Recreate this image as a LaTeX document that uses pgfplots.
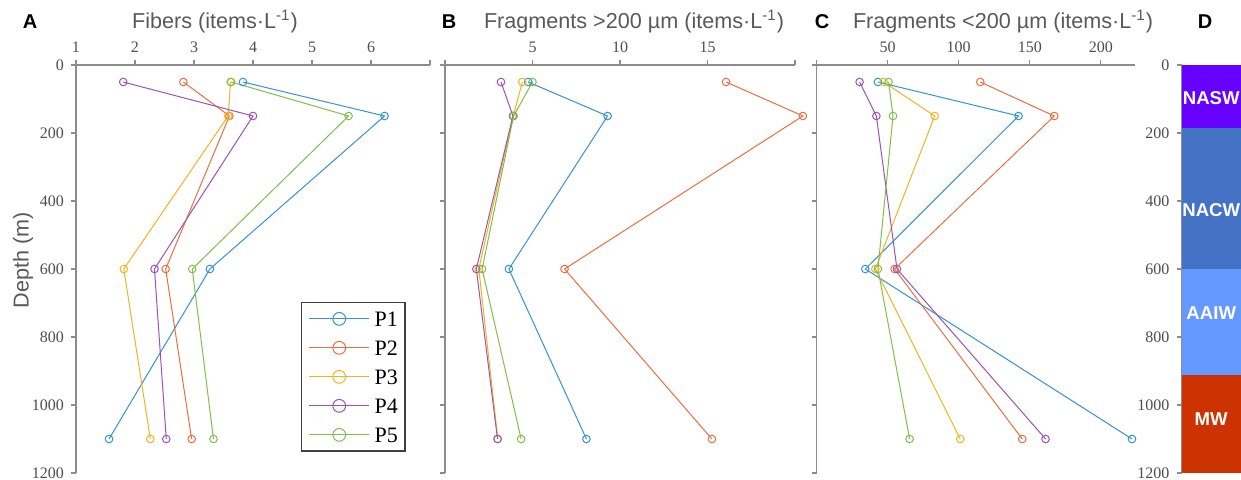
\documentclass[border=0pt]{standalone}
\usepackage{fontspec}
\setmainfont{Liberation Serif}
\newfontfamily\arial{Liberation Sans}
\usepackage{pgfplots}
\pgfplotsset{compat=1.18}
\definecolor{axgray}{HTML}{8C8C8C}
\definecolor{lblgray}{HTML}{4D4D4D}
\definecolor{ttlgray}{HTML}{595959}
\definecolor{cP1}{HTML}{3393D3}
\definecolor{cP2}{HTML}{EA6F40}
\definecolor{cP3}{HTML}{EDB423}
\definecolor{cP4}{HTML}{9E52B3}
\definecolor{cP5}{HTML}{82BE48}
\definecolor{cNASW}{HTML}{6600FF}
\definecolor{cNACW}{HTML}{4472C4}
\definecolor{cAAIW}{HTML}{6699FF}
\definecolor{cMW}{HTML}{CC3300}
\pgfplotsset{
  panel/.style={
    scale only axis, height=204pt, anchor=south west,
    ymin=0, ymax=1200, y dir=reverse,
    axis x line=top, axis y line=left,
    axis line style={draw=axgray, line width=0.6pt, -},
    tick style={draw=axgray, line width=0.6pt},
    major tick length=2.5pt, tick align=outside,
    ytick={0,200,...,1200},
    ticklabel style={font=\fontsize{8}{9}\selectfont, text=lblgray},
    /pgf/number format/assume math mode=true,
    /pgf/number format/1000 sep={},
    clip=false,
  },
  s/.style={color=#1, line width=0.5pt, mark=o, mark size=1.9pt, mark options={line width=0.5pt, fill=none}},
}
\begin{document}
\begin{tikzpicture}
\path[use as bounding box] (0,0) rectangle (620.5pt,240pt);
% Panel A
\begin{axis}[panel, at={(38pt,3.5pt)}, width=177pt,
  xmin=1, xmax=7, xtick={1,2,3,4,5,6,7}, xticklabels={1,2,3,4,5,6,},
  legend style={at={(axis description cs:0.636,0.419)}, anchor=north west,
    draw=black!75, line width=0.6pt, font=\fontsize{11}{12}\selectfont,
    inner xsep=3.5pt, inner ysep=4.5pt,
    nodes={inner sep=0pt, text height=7.2pt, text depth=0pt},
    row sep=7.3pt, column sep=2.5pt, cells={anchor=west}},
  legend image code/.code={\draw[#1,mark repeat=2,mark phase=2,mark size=3.2pt] plot coordinates {(0pt,0pt) (15pt,0pt) (30pt,0pt)};},
]
\addplot[s=cP1] coordinates {(3.83,50)(6.23,150)(3.27,600)(1.56,1100)};
\addplot[s=cP2] coordinates {(2.82,50)(3.60,150)(2.52,600)(2.96,1100)};
\addplot[s=cP3] coordinates {(3.62,50)(3.58,150)(1.81,600)(2.26,1100)};
\addplot[s=cP4] coordinates {(1.80,50)(4.00,150)(2.33,600)(2.53,1100)};
\addplot[s=cP5] coordinates {(3.63,50)(5.62,150)(2.97,600)(3.33,1100)};
\legend{P1,P2,P3,P4,P5}
\end{axis}
% Panel B
\begin{axis}[panel, at={(222.5pt,3.5pt)}, width=175pt,
  xmin=0, xmax=20, xtick={0,5,10,15,20}, xticklabels={,5,10,15,},
  yticklabels={}]
\addplot[s=cP1] coordinates {(4.75,50)(9.29,150)(3.65,600)(8.08,1100)};
\addplot[s=cP2] coordinates {(16.06,50)(20.45,150)(6.83,600)(15.25,1100)};
\addplot[s=cP3] coordinates {(4.42,50)(3.90,150)(1.93,600)(3.02,1100)};
\addplot[s=cP4] coordinates {(3.20,50)(3.88,150)(1.79,600)(3.00,1100)};
\addplot[s=cP5] coordinates {(5.00,50)(3.92,150)(2.12,600)(4.35,1100)};
\end{axis}
% Panel C
\begin{axis}[panel, at={(408.25pt,3.5pt)}, width=159.25pt,
  xmin=0, xmax=224, xtick={0,50,100,150,200}, xticklabels={,50,100,150,200},
  yticklabels={}]
\addplot[s=cP1] coordinates {(43.2,50)(142.1,150)(34.3,600)(221.9,1100)};
\addplot[s=cP2] coordinates {(115.2,50)(167.2,150)(54.9,600)(144.7,1100)};
\addplot[s=cP3] coordinates {(47.2,50)(83.1,150)(41.4,600)(101.1,1100)};
\addplot[s=cP4] coordinates {(30.3,50)(42.1,150)(56.6,600)(161.1,1100)};
\addplot[s=cP5] coordinates {(50.7,50)(53.8,150)(43.2,600)(65.5,1100)};
\end{axis}
% Panel D
\begin{axis}[panel, at={(590.75pt,3.5pt)}, width=29.75pt,
  axis x line=none, xmin=0, xmax=1]
\addplot[fill=cNASW, draw=none] coordinates {(0,0)(1,0)(1,185)(0,185)} -- cycle;
\addplot[fill=cNACW, draw=none] coordinates {(0,185)(1,185)(1,600)(0,600)} -- cycle;
\addplot[fill=cAAIW, draw=none] coordinates {(0,600)(1,600)(1,912)(0,912)} -- cycle;
\addplot[fill=cMW, draw=none] coordinates {(0,912)(1,912)(1,1200)(0,1200)} -- cycle;
\node[text=white, font=\arial\bfseries\fontsize{9.3}{10}\selectfont] at (axis cs:0.5,97) {NASW};
\node[text=white, font=\arial\bfseries\fontsize{9.3}{10}\selectfont] at (axis cs:0.5,426) {NACW};
\node[text=white, font=\arial\bfseries\fontsize{9.3}{10}\selectfont] at (axis cs:0.5,730) {AAIW};
\node[text=white, font=\arial\bfseries\fontsize{9.3}{10}\selectfont] at (axis cs:0.5,1041) {MW};
\end{axis}
% Titles and panel letters
\node[text=ttlgray, font=\arial\fontsize{10.8}{12}\selectfont] at (107.5pt,229pt) {Fibers (items·L\textsuperscript{-1})};
\node[text=ttlgray, font=\arial\fontsize{10.8}{12}\selectfont] at (317pt,229pt) {Fragments >200 µm (items·L\textsuperscript{-1})};
\node[text=ttlgray, font=\arial\fontsize{10.8}{12}\selectfont] at (501.5pt,229pt) {Fragments <200 µm (items·L\textsuperscript{-1})};
\node[font=\arial\bfseries\fontsize{10}{12}\selectfont] at (15pt,229pt) {A};
\node[font=\arial\bfseries\fontsize{10}{12}\selectfont] at (224.5pt,229pt) {B};
\node[font=\arial\bfseries\fontsize{10}{12}\selectfont] at (411pt,229pt) {C};
\node[font=\arial\bfseries\fontsize{10}{12}\selectfont] at (602.5pt,229pt) {D};
\node[text=ttlgray, font=\arial\fontsize{10.8}{12}\selectfont, rotate=90] at (11.5pt,110pt) {Depth (m)};
\end{tikzpicture}
\end{document}
